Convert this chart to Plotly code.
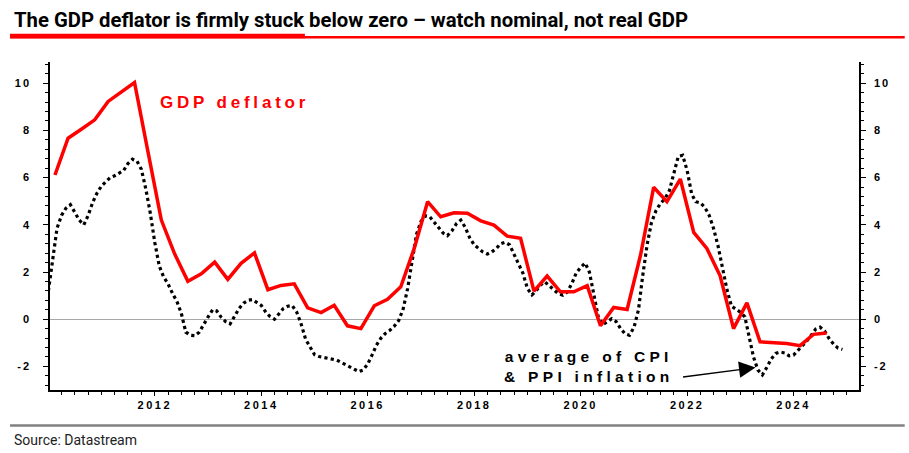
import pandas as pd
import plotly.graph_objects as go

# ---------------- data ----------------
gdp_start_quarter = "2010Q1"
gdp_deflator = [
    6.11, 7.67, 8.05, 8.45, 9.23, 9.65, 10.03, 7.10, 4.20, 2.77,
    1.61, 1.92, 2.42, 1.69, 2.37, 2.81, 1.25, 1.43, 1.50, 0.48,
    0.28, 0.59, -0.28, -0.40, 0.57, 0.84, 1.37, 3.00, 4.98, 4.34,
    4.51, 4.49, 4.17, 3.99, 3.52, 3.43, 1.19, 1.83, 1.16, 1.16,
    1.42, -0.28, 0.50, 0.41, 2.72, 5.59, 4.98, 5.94, 3.68, 3.00,
    1.84, -0.40, 0.69, -0.96, -0.99, -1.03, -1.12, -0.64, -0.58,
]

cpi_start_month = "2010-01-01"
cpi_ppi_avg = [
    1.20, 2.60, 3.85, 4.40, 4.70, 4.85, 4.55, 4.20, 4.00, 4.40,
    4.95, 5.35, 5.65, 5.85, 6.00, 6.08, 6.20, 6.30, 6.60, 6.78,
    6.70, 6.35, 5.50, 4.50, 3.25, 2.25, 1.80, 1.50, 1.10, 0.75,
    0.25, -0.55, -0.68, -0.70, -0.55, -0.20, 0.10, 0.40, 0.35, 0.08,
    -0.10, -0.20, 0.15, 0.45, 0.68, 0.80, 0.83, 0.70, 0.58, 0.30,
    0.12, 0.00, 0.20, 0.45, 0.55, 0.58, 0.30, -0.20, -0.85, -1.20,
    -1.50, -1.58, -1.62, -1.63, -1.68, -1.73, -1.82, -1.92, -2.02, -2.13,
    -2.22, -2.15, -1.90, -1.50, -1.10, -0.80, -0.60, -0.47, -0.30, -0.05,
    0.45, 1.30, 2.40, 3.60, 4.15, 4.38, 4.35, 4.10, 3.85, 3.65,
    3.54, 3.75, 4.05, 4.20, 3.88, 3.45, 3.15, 3.00, 2.85, 2.76,
    2.85, 3.00, 3.20, 3.26, 3.15, 2.75, 2.30, 1.95, 1.30, 1.03,
    1.20, 1.45, 1.58, 1.40, 1.25, 1.08, 1.02, 1.15, 1.50, 1.95,
    2.20, 2.38, 2.00, 1.10, 0.10, -0.23, -0.10, 0.02, -0.10, -0.40,
    -0.62, -0.68, -0.35, 0.40, 1.80, 3.15, 4.10, 4.60, 4.90, 5.10,
    5.45, 6.20, 6.90, 6.95, 6.30, 5.30, 4.98, 4.93, 4.75, 4.40,
    3.85, 3.10, 2.10, 1.25, 0.55, 0.42, 0.30, 0.10, -0.70, -1.60,
    -2.15, -2.36, -2.05, -1.68, -1.45, -1.39, -1.43, -1.55, -1.52, -1.32,
    -1.12, -0.92, -0.68, -0.42, -0.34, -0.50, -0.82, -1.05, -1.22, -1.28,
]

y_tick_values = [-2, 0, 2, 4, 6, 8, 10]
x_tick_years = [2012, 2014, 2016, 2018, 2020, 2022, 2024]

title_text = "The GDP deflator is firmly stuck below zero \u2013 watch nominal, not real GDP"
source_text = "Source: Datastream"

# ---------------- build x values ----------------
quarters = pd.period_range(gdp_start_quarter, periods=len(gdp_deflator), freq="Q")
gdp_x = [p.start_time + pd.Timedelta(days=45) for p in quarters]
cpi_x = pd.date_range(cpi_start_month, periods=len(cpi_ppi_avg), freq="MS")

RED = "#ff0000"
ARIAL = "Liberation Sans, Arial, sans-serif"
NARROW = "Liberation Sans Narrow, Roboto, sans-serif"


def spaced(t, px):
    return f'<span style="letter-spacing:{px}px">{t}</span>'


fig = go.Figure()
fig.add_trace(go.Scatter(
    x=cpi_x, y=cpi_ppi_avg, mode="lines",
    line=dict(color="black", width=3.2, dash="dot"),
    name="average of CPI & PPI inflation", showlegend=False,
))
fig.add_trace(go.Scatter(
    x=gdp_x, y=gdp_deflator, mode="lines",
    line=dict(color=RED, width=3.5),
    name="GDP deflator", showlegend=False,
))
fig.add_trace(go.Scatter(x=[gdp_x[0]], y=[None], yaxis="y2",
                         showlegend=False, hoverinfo="skip"))

yr = [-3, 10.9]
xr = ["2010-01-12", "2025-03-25"]

x_tickvals = [f"{y}-01-01" for y in x_tick_years]
x_ticktext = [spaced(str(y), 2.5) for y in x_tick_years]
y_ticktext = [spaced(str(v), 2) for v in y_tick_values]

axis_font = dict(family=ARIAL, size=11, color="black", weight="bold")

fig.update_layout(
    width=909, height=453,
    margin=dict(l=50, r=49.7, t=62.3, b=63.35),
    paper_bgcolor="white", plot_bgcolor="white",
    showlegend=False,
    xaxis=dict(
        type="date", range=xr, showgrid=False, zeroline=False,
        showline=True, linecolor="black", linewidth=1.5,
        ticks="outside", ticklen=4, tickwidth=1, tickcolor="black",
        tickvals=x_tickvals, ticktext=x_ticktext,
        tickfont=axis_font,
        minor=dict(dtick="M3", tick0="2010-01-01", ticks="outside",
                   ticklen=3, tickcolor="black", showgrid=False),
    ),
    yaxis=dict(
        range=yr, showgrid=False,
        zeroline=True, zerolinecolor="#a8a8a8", zerolinewidth=1,
        showline=True, linecolor="black", linewidth=1.5,
        ticks="outside", ticklen=5, tickcolor="black",
        tickvals=y_tick_values, ticktext=y_ticktext,
        tickfont=axis_font, ticklabelstandoff=10,
        minor=dict(dtick=0.4, tick0=0, ticks="outside", ticklen=3,
                   tickcolor="black", showgrid=False),
    ),
    yaxis2=dict(
        range=yr, overlaying="y", side="right", anchor="x",
        showgrid=False, zeroline=False,
        showline=True, linecolor="black", linewidth=1.5,
        ticks="outside", ticklen=5, tickcolor="black",
        tickvals=y_tick_values, ticktext=y_ticktext,
        tickfont=axis_font, ticklabelstandoff=6,
        minor=dict(dtick=0.4, tick0=0, ticks="outside", ticklen=3,
                   tickcolor="black", showgrid=False),
    ),
)

annotations = [
    dict(text=f"<b>{title_text}</b>", xref="paper", yref="paper",
         x=-0.04695, y=1.1292, xanchor="left", yanchor="middle",
         showarrow=False, font=dict(family=NARROW, size=20.3, color="black")),
    dict(text=source_text, xref="paper", yref="paper",
         x=-0.04695, y=-0.1538, xanchor="left", yanchor="middle",
         showarrow=False, font=dict(family=NARROW, size=14, color="#222222")),
    dict(text=spaced("GDP deflator", 3.8), x="2013-07-01", y=9.17,
         xanchor="center", yanchor="middle", showarrow=False,
         font=dict(family=ARIAL, size=17, color=RED, weight="bold")),
    dict(text=spaced("average of CPI", 4.3) + "<br>" + spaced("& PPI inflation", 4.3),
         x="2020-03-01", y=-2.0, xanchor="center", yanchor="middle",
         showarrow=False,
         font=dict(family=ARIAL, size=15.5, color="black", weight="bold")),
    dict(text="", x="2023-04-15", y=-2.05, ax=-74, ay=9.5,
         showarrow=True, arrowhead=2, arrowsize=2.2, arrowwidth=1.5,
         arrowcolor="black"),
]
fig.update_layout(annotations=annotations)

shapes = [
    dict(type="line", xref="paper", yref="paper", x0=-0.0494, x1=1.0565,
         y0=1.0758, y1=1.0758, line=dict(color=RED, width=2.5)),
    dict(type="rect", xref="paper", yref="paper", x0=-0.0494, x1=0.3151,
         y0=1.0727, y1=1.0865, line=dict(width=0), fillcolor=RED),
    dict(type="line", xref="paper", yref="paper", x0=-0.0494, x1=1.0565,
         y0=-0.108, y1=-0.108, line=dict(color="#808080", width=2.5)),
]
fig.update_layout(shapes=shapes)

fig.write_html(
    "out.html",
    config={"displayModeBar": False},
    post_script="document.body.style.margin='0';document.body.style.padding='0';"
                "document.body.style.overflow='hidden';",
)
